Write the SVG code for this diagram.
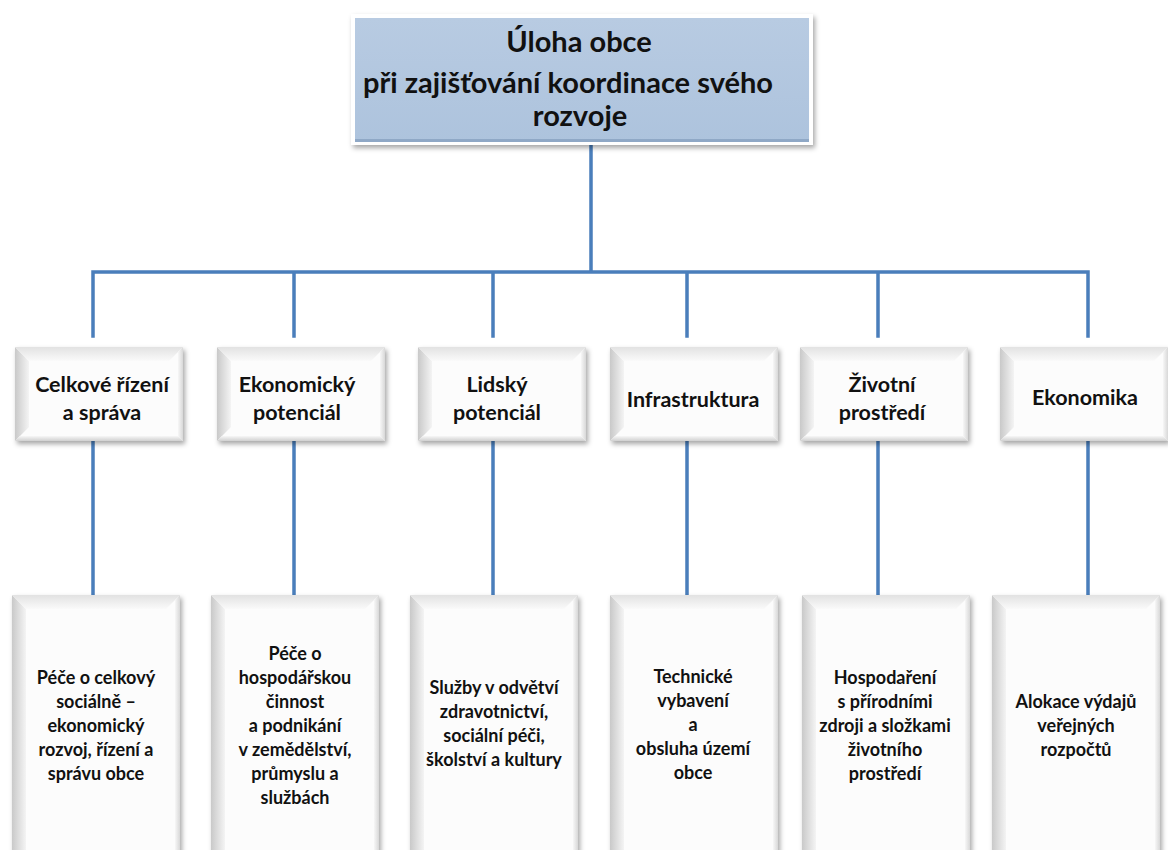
<svg xmlns="http://www.w3.org/2000/svg" width="1168" height="850" viewBox="0 0 1168 850">
  <defs>
    <style>
      text { font-family: "Lato", "Liberation Sans", sans-serif; font-weight: bold; fill: #111; text-anchor: middle; }
      .t0 { font-size: 29px; }
      .t1 { font-size: 21.5px; }
      .t2 { font-size: 18px; }
      .conn { stroke: #4A7EBB; stroke-width: 3.5; fill: none; stroke-linecap: square; }
    </style>
    <filter id="sh" x="-10%" y="-10%" width="125%" height="125%">
      <feDropShadow dx="2" dy="3" stdDeviation="2.5" flood-color="#000" flood-opacity="0.35"/>
    </filter>
    <linearGradient id="gl" x1="0" y1="0" x2="1" y2="0">
      <stop offset="0" stop-color="#c9c9c9"/>
      <stop offset="1" stop-color="#f4f4f4"/>
    </linearGradient>
    <linearGradient id="gt" x1="0" y1="0" x2="0" y2="1">
      <stop offset="0" stop-color="#e2e2e2"/>
      <stop offset="1" stop-color="#fafafa"/>
    </linearGradient>
    <linearGradient id="gr" x1="0" y1="0" x2="1" y2="0">
      <stop offset="0" stop-color="#f7f7f7"/>
      <stop offset="1" stop-color="#d8d8d8"/>
    </linearGradient>
    <linearGradient id="gb" x1="0" y1="0" x2="0" y2="1">
      <stop offset="0" stop-color="#f7f7f7"/>
      <stop offset="1" stop-color="#d0d0d0"/>
    </linearGradient>
    <linearGradient id="gblue" x1="0" y1="0" x2="0" y2="1">
      <stop offset="0" stop-color="#b8cbe2"/>
      <stop offset="1" stop-color="#adc3dd"/>
    </linearGradient>
    <symbol id="box1" overflow="visible">
      <rect x="0" y="0" width="168" height="94" fill="#fcfcfc" filter="url(#sh)"/>
      <polygon points="0,0 14,14 14,80 0,94" fill="url(#gl)"/>
      <polygon points="0,0 168,0 154,14 14,14" fill="url(#gt)"/>
      <polygon points="168,0 168,94 163,89 163,5" fill="url(#gr)"/>
      <polygon points="0,94 168,94 163,89 5,89" fill="url(#gb)"/>
    </symbol>
    <symbol id="box2" overflow="visible">
      <rect x="0" y="0" width="168" height="270" fill="#fcfcfc" filter="url(#sh)"/>
      <polygon points="0,0 14,14 14,256 0,270" fill="url(#gl)"/>
      <polygon points="0,0 168,0 154,14 14,14" fill="url(#gt)"/>
      <polygon points="168,0 168,270 163,265 163,5" fill="url(#gr)"/>
    </symbol>
  </defs>
  <rect width="1168" height="850" fill="#ffffff"/>

  <g id="connectors">
    <path class="conn" d="M591,145 V272 M93,272 H1088 M93,272 V336 M294,272 V336 M493,272 V336 M687,272 V336 M878,272 V336 M1088,272 V336"/>
    <path class="conn" d="M93,442 V594 M294,442 V594 M493,442 V594 M687,442 V594 M878,442 V594 M1088,442 V594"/>
  </g>

  <g id="root">
    <rect x="351" y="14" width="462" height="131" fill="#ffffff" filter="url(#sh)"/>
    <rect x="355" y="18" width="454" height="124" fill="url(#gblue)"/>
    <rect x="355" y="139" width="454" height="3" fill="#8fa8c6"/>
    <text class="t0" x="579" y="52">Úloha obce</text>
    <text class="t0" x="568" y="93">při zajišťování koordinace svého</text>
    <text class="t0" x="580" y="126">rozvoje</text>
  </g>

  <g id="n1"><use href="#box1" x="15" y="347"/><text class="t1" x="102" y="392">Celkové řízení</text><text class="t1" x="102" y="420">a správa</text></g>
  <g id="n2"><use href="#box1" x="217" y="347"/><text class="t1" x="297" y="392">Ekonomický</text><text class="t1" x="297" y="420">potenciál</text></g>
  <g id="n3"><use href="#box1" x="418" y="347"/><text class="t1" x="497" y="392">Lidský</text><text class="t1" x="497" y="420">potenciál</text></g>
  <g id="n4"><use href="#box1" x="610" y="347"/><text class="t1" x="693" y="407">Infrastruktura</text></g>
  <g id="n5"><use href="#box1" x="800" y="347"/><text class="t1" x="882" y="392">Životní</text><text class="t1" x="882" y="420">prostředí</text></g>
  <g id="n6"><use href="#box1" x="1000" y="347"/><text class="t1" x="1085" y="405">Ekonomika</text></g>

  <g id="m1"><use href="#box2" x="12" y="595"/>
    <text class="t2" x="96"><tspan x="96" y="684">Péče o celkový</tspan><tspan x="96" y="708">sociálně –</tspan><tspan x="96" y="732">ekonomický</tspan><tspan x="96" y="756">rozvoj, řízení a</tspan><tspan x="96" y="780">správu obce</tspan></text></g>
  <g id="m2"><use href="#box2" x="211" y="595"/>
    <text class="t2" x="295"><tspan x="295" y="660">Péče o</tspan><tspan x="295" y="684">hospodářskou</tspan><tspan x="295" y="708">činnost</tspan><tspan x="295" y="732">a podnikání</tspan><tspan x="295" y="756">v zemědělství,</tspan><tspan x="295" y="780">průmyslu a</tspan><tspan x="295" y="804">službách</tspan></text></g>
  <g id="m3"><use href="#box2" x="410" y="595"/>
    <text class="t2" x="494"><tspan x="494" y="694">Služby v odvětví</tspan><tspan x="494" y="718">zdravotnictví,</tspan><tspan x="494" y="742">sociální péči,</tspan><tspan x="494" y="766">školství a kultury</tspan></text></g>
  <g id="m4"><use href="#box2" x="610" y="595"/>
    <text class="t2" x="693"><tspan x="693" y="683">Technické</tspan><tspan x="693" y="707">vybavení</tspan><tspan x="693" y="731">a</tspan><tspan x="693" y="755">obsluha území</tspan><tspan x="693" y="779">obce</tspan></text></g>
  <g id="m5"><use href="#box2" x="802" y="595"/>
    <text class="t2" x="885"><tspan x="885" y="684">Hospodaření</tspan><tspan x="885" y="708">s přírodními</tspan><tspan x="885" y="732">zdroji a složkami</tspan><tspan x="885" y="756">životního</tspan><tspan x="885" y="780">prostředí</tspan></text></g>
  <g id="m6"><use href="#box2" x="992" y="595"/>
    <text class="t2" x="1076"><tspan x="1076" y="708">Alokace výdajů</tspan><tspan x="1076" y="732">veřejných</tspan><tspan x="1076" y="756">rozpočtů</tspan></text></g>
</svg>
